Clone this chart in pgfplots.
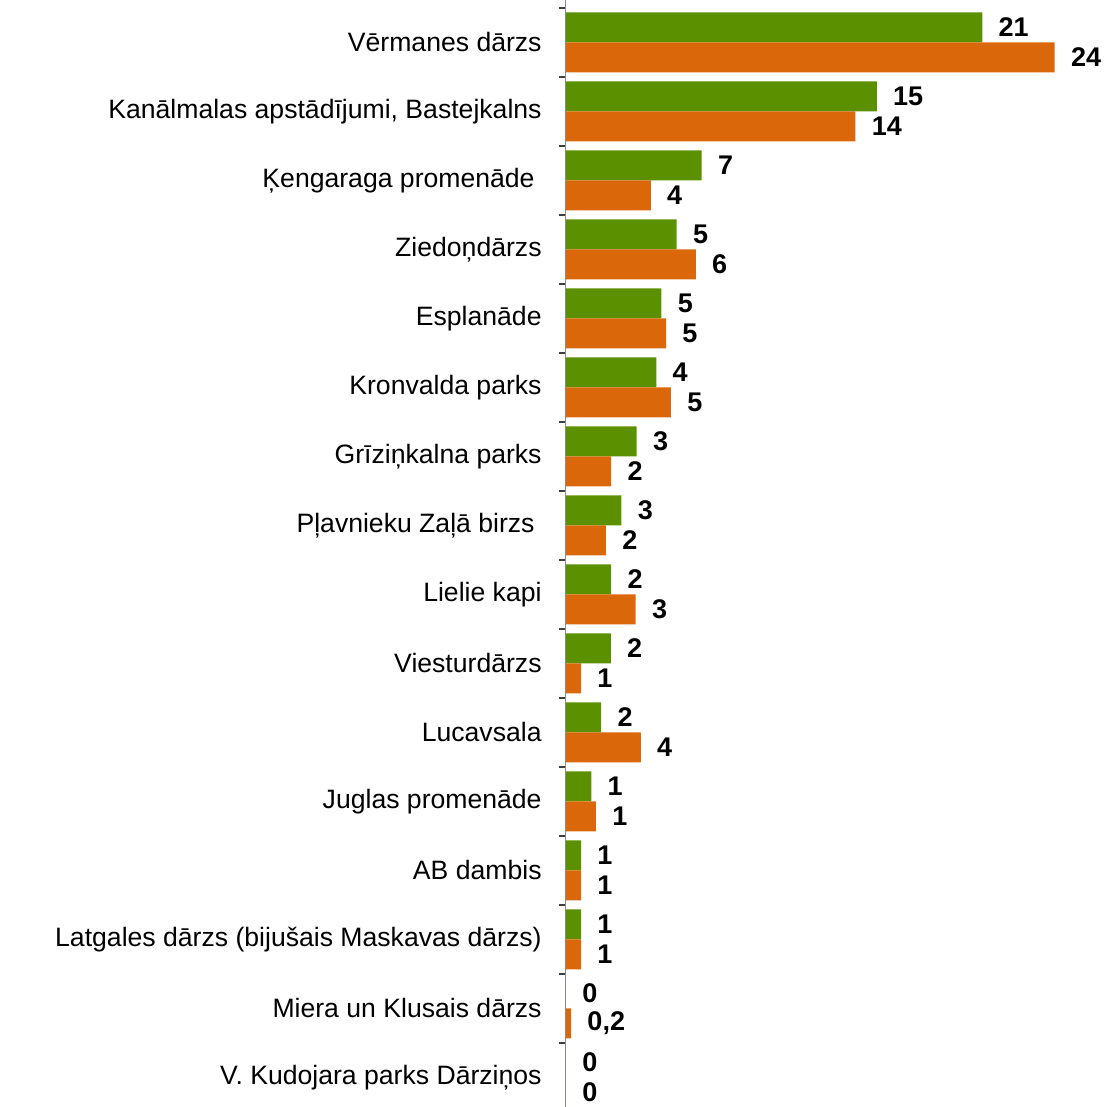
\documentclass[border=0pt]{standalone}
\usepackage{fontspec}
\setmainfont{Liberation Sans}
\usepackage{pgfplots}
\pgfplotsset{compat=1.18}
\definecolor{cgreen}{RGB}{91,145,0}
\definecolor{corange}{RGB}{218,104,10}
\begin{document}
\begin{tikzpicture}
\begin{axis}[
  at={(0,0)}, anchor=south west,
  scale only axis, width=270pt, height=553.5pt,
  xmin=0, xmax=26.5,
  ymin=-0.428, ymax=15.616,
  axis x line=none,
  axis y line*=left,
  axis line style={draw=gray!90, line width=0.5pt},
  clip=false,
  ytick={0,...,15},
  yticklabels={V. Kudojara parks Dārziņos, Miera un Klusais dārzs, Latgales dārzs (bijušais Maskavas dārzs), AB dambis, Juglas promenāde, Lucavsala, Viesturdārzs, Lielie kapi, Pļavnieku Zaļā birzs\hspace*{3.5pt}, Grīziņkalna parks, Kronvalda parks, Esplanāde, Ziedoņdārzs, Ķengaraga promenāde\hspace*{3.5pt}, {Kanālmalas apstādījumi, Bastejkalns}, Vērmanes dārzs},
  minor ytick={-0.5,0.5,...,15.5},
  major tick length=0pt,
  minor tick length=3.5pt,
  tick align=outside,
  minor tick style={draw=black!75, line width=0.6pt},
  yticklabel style={anchor=east, inner sep=0pt, xshift=-12pt, font=\fontsize{13.3}{16}\selectfont},
  nodes near coords,
  point meta=explicit symbolic,
  nodes near coords style={anchor=west, inner sep=0pt, xshift=8pt, font=\fontsize{13.5}{16}\selectfont\bfseries},
]
\addplot[xbar, bar width=15pt, bar shift=0pt, fill=cgreen, draw=none] table[x=x, y=y, meta=lab] {
x y lab
20.43 15.2174 21
15.25 14.2174 15
6.66 13.2174 7
5.43 12.2174 5
4.68 11.2174 5
4.43 10.2174 4
3.47 9.2174 3
2.72 8.2174 3
2.22 7.2174 2
2.20 6.2174 2
1.73 5.2174 2
1.24 4.2174 1
0.74 3.2174 1
0.74 2.2174 1
0 1.2174 0
0 0.2174 0
};
\addplot[xbar, bar width=15pt, bar shift=0pt, fill=corange, draw=none] table[x=x, y=y, meta=lab] {
x y lab
23.98 14.7826 24
14.20 13.7826 14
4.16 12.7826 4
6.37 11.7826 6
4.91 10.7826 5
5.15 9.7826 5
2.22 8.7826 2
1.96 7.7826 2
3.42 6.7826 3
0.74 5.7826 1
3.67 4.7826 4
1.47 3.7826 1
0.74 2.7826 1
0.74 1.7826 1
0.25 0.7826 0,2
0 -0.2174 0
};
\end{axis}
\pgfresetboundingbox
\path[use as bounding box] (-283pt,0) rectangle (270pt,553.5pt);
\end{tikzpicture}
\end{document}
